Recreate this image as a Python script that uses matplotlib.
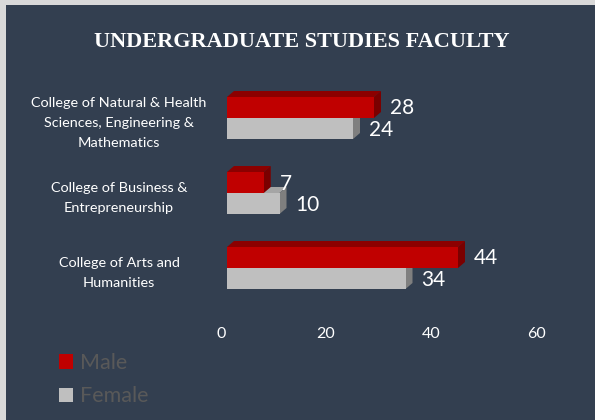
import matplotlib
matplotlib.use("Agg")
import matplotlib.pyplot as plt
from matplotlib.patches import Rectangle, Polygon, Patch
from matplotlib import transforms

# ---- data ----
categories = ["College of Natural & Health\nSciences, Engineering &\nMathematics",
              "College of Business &\nEntrepreneurship",
              "College of Arts and\nHumanities"]
male = [28, 7, 44]
female = [24, 10, 34]
series_names = ["Male", "Female"]
xticks = [0, 20, 40, 60]
title = "UNDERGRADUATE STUDIES FACULTY"

W, H, DPI = 595, 420, 100
BG = "#333F50"
FONT = "Lato"

fig = plt.figure(figsize=(W / DPI, H / DPI), dpi=DPI)
fig.patch.set_facecolor("#D9D9D9")
fig.add_artist(Rectangle((6 / W, 0), 1 - 6 / W, (H - 5) / H, transform=fig.transFigure,
                         facecolor=BG, edgecolor="none", zorder=0))

# axes: x 0 at px 227, 5.25 px / unit ; categories centred at px 118 + 75*i
x0px, pxu = 227, 5.25
xmax = 60
ax_top, ax_bot = 80, 305
ax = fig.add_axes([x0px / W, (H - ax_bot) / H, xmax * pxu / W, (ax_bot - ax_top) / H])
ax.set_facecolor("none")
ax.set_xlim(0, xmax)
ylo = -(118 - ax_top) / 75
yhi = len(categories) - 1 + (ax_bot - (118 + 75 * (len(categories) - 1))) / 75
ax.set_ylim(yhi, ylo)
for s in ax.spines.values():
    s.set_visible(False)
ax.set_yticks([])
ax.set_xticks(xticks)
ax.set_xticklabels([str(t) for t in xticks], fontsize=11.5, color="white", family=FONT)
ax.tick_params(axis="x", length=0, pad=16)
shift = transforms.ScaledTranslation(-6 / DPI, 0, fig.dpi_scale_trans)
for lab in ax.get_xticklabels():
    lab.set_transform(lab.get_transform() + shift)

bh = 21 / 75            # bar height in data units
ddx = 7 / pxu           # 3D depth in data units (x)
ddy = 6 / 75            # 3D depth in data units (y, upwards)

def bar3d(val, ytop, front, top, side, z):
    ybot = ytop + bh
    ax.add_patch(Polygon([(0, ytop), (ddx, ytop - ddy), (val + ddx, ytop - ddy), (val, ytop)],
                         closed=True, facecolor=top, edgecolor="none", zorder=z))
    ax.add_patch(Polygon([(val, ytop), (val + ddx, ytop - ddy), (val + ddx, ybot - ddy), (val, ybot)],
                         closed=True, facecolor=side, edgecolor="none", zorder=z))
    ax.barh(ytop + bh / 2, val, height=bh, color=front, edgecolor="none", zorder=z + 0.5)

for i in range(len(categories)):
    bar3d(female[i], i, "#BFBFBF", "#A5A5A5", "#7F7F7F", 2)
    bar3d(male[i], i - bh, "#C00000", "#8C0000", "#7A0000", 3)
    ax.annotate(str(male[i]), xy=(male[i], i - bh / 2), xytext=(16 * 0.72, -1 * 0.72),
                textcoords="offset points", ha="left", va="center", fontsize=15,
                color="white", family=FONT)
    ax.annotate(str(female[i]), xy=(female[i], i + bh / 2), xytext=(16 * 0.72, -1.5 * 0.72),
                textcoords="offset points", ha="left", va="center", fontsize=15,
                color="white", family=FONT)
    ax.annotate(categories[i], xy=(0, i), xytext=(-108 * 0.72, -5 * 0.72),
                textcoords="offset points", ha="center", va="center", multialignment="center",
                fontsize=10.4, color="white", family=FONT, linespacing=1.82,
                annotation_clip=False)

fig.text(302 / W, 1 - 42 / H, title, ha="center", va="center", fontsize=16,
         fontweight="bold", color="white", family="Liberation Serif")

handles = [Patch(facecolor="#C00000", edgecolor="none"),
           Patch(facecolor="#BFBFBF", edgecolor="none")]
leg = fig.legend(handles, series_names, loc="upper left",
                 bbox_to_anchor=(59 / W, 1 - 353 / H), frameon=False,
                 prop={"family": FONT, "size": 15.5}, labelcolor="#595959",
                 handlelength=0.66, handleheight=0.66, handletextpad=0.3,
                 labelspacing=0.62, borderpad=0, borderaxespad=0)

fig.savefig("out.png", dpi=DPI, facecolor=fig.get_facecolor())
